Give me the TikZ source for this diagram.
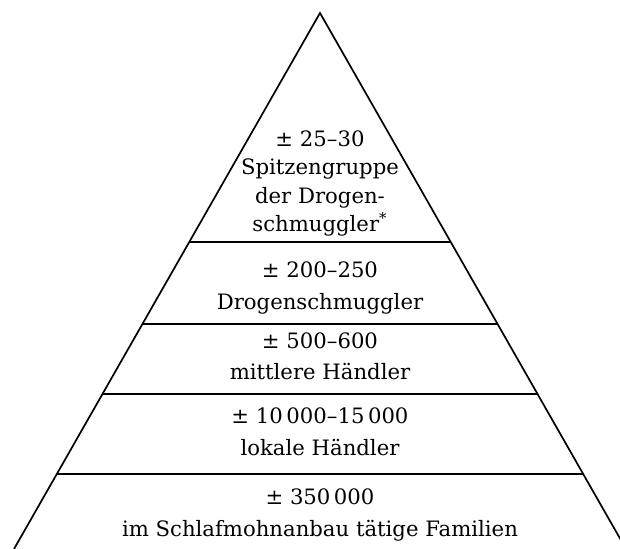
\documentclass[tikz,border=0pt]{standalone}
\usepackage{fontspec}
\setmainfont{DejaVu Serif}
\usetikzlibrary{calc}
\tikzset{stufe/.style={align=center, anchor=base, inner sep=0pt, font=\fontsize{10.6}{16}\selectfont}}

\begin{document}
\begin{tikzpicture}[x=0.5pt, y=-0.5pt, line width=0.85pt]
\useasboundingbox (0,0) rectangle (620,549);
\clip (0,0) rectangle (620,549);
\coordinate (apex) at (320,13);
\coordinate (bl) at (14,549);
\coordinate (br) at (626,549);
\draw (bl) -- (apex) -- (br);
\foreach \t in {0.42724,0.58022,0.71082,0.86007}
  \draw[line width=1pt] ($(apex)!\t!(bl)$) -- ($(apex)!\t!(br)$);
% anchor base = letzte Zeile
\node[stufe, font=\fontsize{10.6}{14.2}\selectfont] (s1) at (320,231.7) {± 25–30\\Spitzengruppe\\der Drogen-\\schmuggler\textsuperscript{*}};
\node[stufe] (s2) at (320,309.3) {± 200–250\\Drogenschmuggler};
\node[stufe] (s3) at (320,380) {± 500–600\\mittlere Händler};
\node[stufe] (s4) at (320,455) {± 10\,000–15\,000\\lokale Händler};
\node[stufe] (s5) at (320,536) {± 350\,000\\im Schlafmohnanbau tätige Familien};
\end{tikzpicture}
\end{document}
